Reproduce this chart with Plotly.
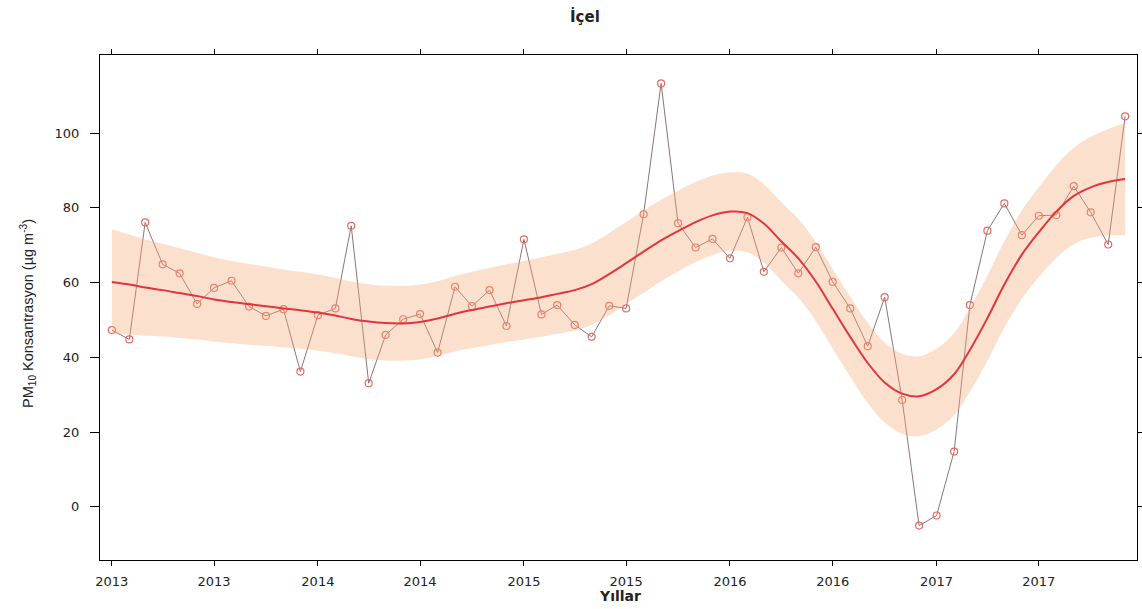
import pandas as pd
import plotly.graph_objects as go

# Monthly dates (Jan 2013 - Dec 2017)
months = pd.date_range("2013-01-01", "2017-12-01", freq="MS")

# Monthly mean PM10
pm10 = [47.3, 44.8, 76.1, 64.9, 62.5, 54.3, 58.6, 60.5, 53.6, 51.1, 52.9, 36.2,
        51.3, 53.1, 75.2, 33.1, 46.0, 50.2, 51.6, 41.3, 58.9, 53.7, 58.0, 48.4,
        71.6, 51.5, 54.0, 48.7, 45.5, 53.8, 53.1, 78.3, 113.3, 75.9, 69.4, 71.7,
        66.5, 77.5, 62.9, 69.4, 62.5, 69.5, 60.2, 53.1, 43.0, 56.1, 28.6, -5.0,
        -2.3, 14.8, 54.0, 73.9, 81.2, 72.7, 77.9, 78.1, 85.8, 78.8, 70.2, 104.5]

# Smooth trend
trend = [60.2, 59.5, 58.7, 58.0, 57.2, 56.4, 55.5, 54.8, 54.2, 53.7, 53.1, 52.6,
         52.0, 51.2, 50.3, 49.6, 49.2, 49.1, 49.5, 50.4, 51.7, 52.7, 53.6, 54.5,
         55.3, 56.1, 57.0, 58.0, 59.6, 62.3, 65.2, 68.3, 71.3, 73.8, 76.2, 78.0,
         79.0, 78.6, 75.8, 71.0, 66.5, 60.3, 53.0, 45.5, 38.5, 33.3, 30.3, 29.6,
         31.5, 35.5, 42.0, 50.5, 59.5, 67.5, 73.5, 79.0, 83.2, 85.5, 86.9, 87.7]

# Half-width of the confidence band
band_hw = [14.0, 13.4, 12.9, 12.4, 12.0, 11.6, 11.3, 11.0, 10.8, 10.6, 10.4, 10.3,
           10.2, 10.1, 10.0, 10.0, 10.0, 10.0, 10.0, 10.0, 10.1, 10.2, 10.3, 10.4,
           10.5, 10.6, 10.7, 10.8, 10.9, 11.0, 11.0, 11.0, 10.9, 10.8, 10.7, 10.6,
           10.5, 10.5, 10.5, 10.5, 10.5, 10.6, 10.6, 10.7, 10.7, 10.7, 10.7, 10.7,
           10.8, 11.0, 11.2, 11.4, 11.6, 11.8, 12.0, 12.4, 12.9, 13.5, 14.2, 15.0]

tick_dates = pd.date_range("2013-01-01", "2017-07-01", freq="6MS")
tick_labels = [str(d.year) for d in tick_dates]

upper = [t + h for t, h in zip(trend, band_hw)]
lower = [t - h for t, h in zip(trend, band_hw)]

fig = go.Figure()

# data line (under band)
fig.add_trace(go.Scatter(x=months, y=pm10, mode="lines",
                         line=dict(color="#8c7378", width=1), hoverinfo="skip",
                         showlegend=False))
# markers
fig.add_trace(go.Scatter(x=months, y=pm10, mode="markers",
                         marker=dict(symbol="circle-open", size=7,
                                     color="#e86a5e", line=dict(width=1.2)),
                         showlegend=False))
# band: lower edge, then upper edge filled to it
fig.add_trace(go.Scatter(x=months, y=lower, mode="lines",
                         line=dict(width=0, shape="spline", smoothing=1.0),
                         hoverinfo="skip", showlegend=False))
fig.add_trace(go.Scatter(x=months, y=upper, mode="lines", fill="tonexty",
                         fillcolor="rgba(247,168,120,0.36)",
                         line=dict(width=0, shape="spline", smoothing=1.0),
                         hoverinfo="skip", showlegend=False))
# trend
fig.add_trace(go.Scatter(x=months, y=trend, mode="lines",
                         line=dict(color="#e0353f", width=2, shape="spline",
                                   smoothing=1.0),
                         showlegend=False))

axis_font = dict(family="DejaVu Sans", size=13, color="#222222")

fig.update_layout(
    width=1142, height=609,
    paper_bgcolor="white", plot_bgcolor="white",
    margin=dict(l=100, r=5, t=55, b=49, autoexpand=False),
    xaxis=dict(
        type="date",
        range=["2012-12-11", "2017-12-22"],
        tickvals=list(tick_dates), ticktext=tick_labels,
        ticks="outside", ticklen=5, tickcolor="black",
        showline=True, linecolor="black", linewidth=1, mirror="ticks",
        showgrid=False, zeroline=False, automargin=False,
        tickfont=axis_font,
        ticklabelstandoff=4,
    ),
    yaxis=dict(
        range=[-14.2, 120.9],
        tickvals=[0, 20, 40, 60, 80, 100],
        ticks="outside", ticklen=9, tickcolor="black",
        showline=True, linecolor="black", linewidth=1, mirror="ticks",
        showgrid=False, zeroline=False, automargin=False,
        tickfont=axis_font,
        ticklabelstandoff=8,
    ),
    annotations=[
        dict(text="<b>İçel</b>", xref="paper", yref="paper",
             x=(585 - 100) / 1037, y=1 + (55 - 17) / 505,
             xanchor="center", yanchor="middle", showarrow=False,
             font=dict(family="DejaVu Sans", size=15, color="#222222")),
        dict(text="<b>Yıllar</b>", xref="paper", yref="paper",
             x=(620 - 100) / 1037, y=-(596 - 560) / 505,
             xanchor="center", yanchor="middle", showarrow=False,
             font=dict(family="DejaVu Sans", size=14, color="#222222")),
        dict(text="PM<sub>10</sub> Konsantrasyon (µg m<sup>-3</sup>)",
             xref="paper", yref="paper",
             x=-(100 - 28) / 1037, y=(560 - 314) / 505,
             xanchor="center", yanchor="middle", showarrow=False, textangle=-90,
             font=dict(family="Liberation Sans Narrow, Liberation Sans", size=14.5,
                       color="#222222")),
    ],
)

fig.write_html("out.html", config={"displayModeBar": False},
               post_script="document.body.style.margin='0';document.body.style.overflow='hidden';")
